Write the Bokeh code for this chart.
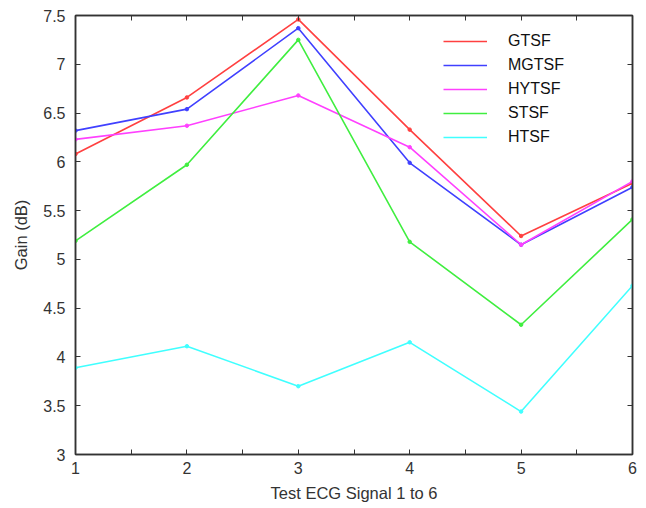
from bokeh.plotting import figure
from bokeh.models import FixedTicker, LinearAxis, Range1d, Legend, LegendItem
from bokeh.embed import file_html
from bokeh.resources import INLINE

signals = [1, 2, 3, 4, 5, 6]
gtsf = [6.08, 6.66, 7.46, 6.33, 5.24, 5.78]
mgtsf = [6.32, 6.54, 7.37, 5.99, 5.15, 5.74]
hytsf = [6.23, 6.37, 6.68, 6.15, 5.15, 5.80]
stsf = [5.19, 5.97, 7.25, 5.18, 4.33, 5.41]
htsf = [3.89, 4.11, 3.70, 4.15, 3.44, 4.73]
names = ["GTSF", "MGTSF", "HYTSF", "STSF", "HTSF"]
colors = ["#ff4040", "#4040ff", "#ff40ff", "#40ee40", "#40ffff"]
series = [gtsf, mgtsf, hytsf, stsf, htsf]

x_ticks = [1, 2, 3, 4, 5, 6]
x_minor = [1.5, 2.5, 3.5, 4.5, 5.5]
y_ticks = [3, 3.5, 4, 4.5, 5, 5.5, 6, 6.5, 7, 7.5]

FONT = "Liberation Sans"
TXT = "#333333"

p = figure(width=646, height=508, output_backend="svg", toolbar_location=None,
           x_range=Range1d(1, 6), y_range=Range1d(3, 7.5),
           min_border_left=75, min_border_top=15, min_border_right=14, min_border_bottom=54)
p.xgrid.visible = False
p.ygrid.visible = False
p.outline_line_color = "#333333"
p.outline_line_width = 1.5

items = []
for name, col, vals in zip(names, colors, series):
    r = p.line(signals, vals, line_color=col, line_width=1.6)
    p.scatter(signals, vals, size=3.5, color=col)
    items.append(LegendItem(label=name, renderers=[r]))

legend = Legend(items=items, location=(368, 307), border_line_color=None,
                background_fill_alpha=0, label_text_font=FONT, label_text_font_size="16px",
                label_text_color="#111111", glyph_width=44, glyph_height=20,
                label_standoff=21, spacing=4, label_height=20, margin=0, padding=0)
p.add_layout(legend, "center")

def style(ax, show_labels=True):
    ax.axis_line_color = "#333333"
    ax.axis_line_width = 1.5
    ax.major_tick_in = 5
    ax.major_tick_out = 0
    ax.minor_tick_in = 5
    ax.minor_tick_out = 0
    ax.major_tick_line_color = "#333333"
    ax.minor_tick_line_color = "#333333"
    ax.major_label_text_font = FONT
    ax.major_label_text_font_size = "16px"
    ax.major_label_text_color = TXT
    ax.axis_label_text_font = FONT
    ax.axis_label_text_font_size = "16.5px"
    ax.axis_label_text_font_style = "normal"
    ax.axis_label_text_color = TXT
    if not show_labels:
        ax.major_label_text_font_size = "0px"
        ax.major_label_text_alpha = 0

p.xaxis.ticker = FixedTicker(ticks=x_ticks, minor_ticks=x_minor)
p.yaxis.ticker = FixedTicker(ticks=y_ticks)
p.xaxis.axis_label = "Test ECG Signal 1 to 6"
p.yaxis.axis_label = "Gain (dB)"
style(p.xaxis[0])
style(p.yaxis[0])
p.xaxis.major_label_standoff = 7
p.yaxis.major_label_standoff = 10
p.xaxis.axis_label_standoff = 7
p.yaxis.axis_label_standoff = 10

top = LinearAxis(ticker=FixedTicker(ticks=x_ticks, minor_ticks=x_minor))
right = LinearAxis(ticker=FixedTicker(ticks=y_ticks))
style(top, False)
style(right, False)
p.add_layout(top, "above")
p.add_layout(right, "right")

open("out.html", "w").write(file_html(p, INLINE))
